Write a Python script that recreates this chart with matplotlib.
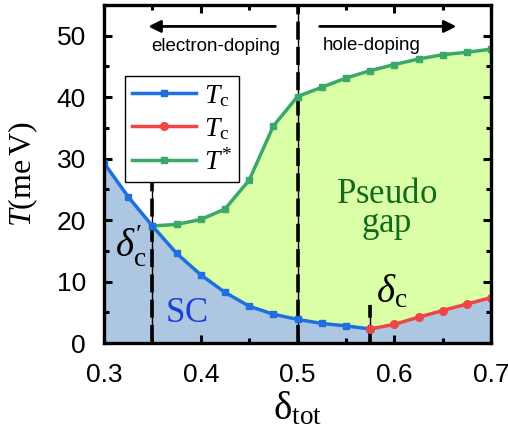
import matplotlib
matplotlib.use("Agg")
import matplotlib.pyplot as plt
from matplotlib.ticker import MultipleLocator
import numpy as np

plt.rcParams['font.family'] = ['Liberation Sans', 'DejaVu Sans']
plt.rcParams['mathtext.fontset'] = 'custom'
plt.rcParams['mathtext.rm'] = 'Liberation Serif'
plt.rcParams['mathtext.it'] = 'Liberation Serif:italic'
plt.rcParams['mathtext.bf'] = 'Liberation Serif:bold'

# Data
x_tc_e = [0.3, 0.325, 0.35, 0.375, 0.4, 0.425, 0.45, 0.475, 0.5, 0.525, 0.55, 0.575]
tc_e = [29.3, 23.8, 19.05, 14.6, 11.1, 8.25, 6.0, 4.7, 3.85, 3.2, 2.8, 2.3]
x_tc_h = [0.575, 0.6, 0.625, 0.65, 0.675, 0.7]
tc_h = [2.3, 3.05, 4.2, 5.3, 6.35, 7.4]
x_ts = [0.35, 0.375, 0.4, 0.425, 0.45, 0.475, 0.5, 0.525, 0.55, 0.575, 0.6, 0.625, 0.65, 0.675, 0.7]
ts = [19.05, 19.3, 20.1, 21.8, 26.5, 35.3, 40.1, 41.6, 43.1, 44.3, 45.3, 46.2, 46.9, 47.3, 47.8]
x_ticks = [0.3, 0.4, 0.5, 0.6, 0.7]
x_ticklabels = ['0.3', '0.4', '0.5', '0.6', '0.7']

c_blue = '#1f6fdf'
c_red = '#f04545'
c_green = '#3aa868'
fill_blue = '#adc7e3'
fill_green = '#dbffa6'

fig = plt.figure(figsize=(5.08, 4.45), dpi=100)
ax = fig.add_axes([0.2047, 0.229, 0.762, 0.760])

# Fills
x_all = x_tc_e + x_tc_h[1:]
tc_all = tc_e + tc_h[1:]
ax.fill_between(x_all, 0, tc_all, color=fill_blue, lw=0, zorder=1)
tc_interp = np.interp(x_ts, x_all, tc_all)
ax.fill_between(x_ts, tc_interp, ts, color=fill_green, lw=0, zorder=1)

# Vertical dashed lines
for xv, ytop in [(0.35, 26.0), (0.5, 55), (0.575, 6.2)]:
    ax.plot([xv, xv], [0, ytop], color='black', lw=1.0, zorder=2)
    ax.plot([xv, xv], [0, ytop], color='black', lw=2.6, ls=(0, (5, 2.0)), zorder=2)

l1, = ax.plot(x_tc_e, tc_e, color=c_blue, lw=2.5, marker='s', ms=5, zorder=4)
l2, = ax.plot(x_tc_h, tc_h, color=c_red, lw=2.5, marker='o', ms=5.5, zorder=4)
l3, = ax.plot(x_ts, ts, color=c_green, lw=2.5, marker='s', ms=5, zorder=3)

ax.set_xlim(0.3, 0.7)
ax.set_ylim(0, 55)
ax.xaxis.set_major_locator(MultipleLocator(0.1))
ax.xaxis.set_minor_locator(MultipleLocator(0.05))
ax.yaxis.set_major_locator(MultipleLocator(10))
ax.yaxis.set_minor_locator(MultipleLocator(5))
ax.tick_params(which='both', direction='in', top=True, right=True, width=2.2, labelsize=19)
ax.tick_params(which='major', length=6)
ax.tick_params(which='minor', length=3.5)
ax.tick_params(axis='x', which='both', pad=14)
ax.tick_params(axis='y', which='both', pad=13)
ax.set_xticks(x_ticks)
ax.set_xticklabels(x_ticklabels)
for s in ax.spines.values():
    s.set_linewidth(2.4)
    s.set_zorder(6)

ax.set_xlabel(r'$\mathrm{\delta}_{\mathrm{tot}}$', fontsize=28, labelpad=2)
ax.set_ylabel(r'$T\mathrm{(me\,V)}$', fontsize=23, labelpad=12)

leg = ax.legend([l1, l2, l3], [r'$T_{\mathrm{c}}$', r'$T_{\mathrm{c}}$', r'$T^{*}$'],
                loc='upper left', bbox_to_anchor=(0.055, 0.79), fontsize=20,
                frameon=True, fancybox=False, edgecolor='black', framealpha=1,
                handlelength=2.3, handletextpad=0.3, borderpad=0.25, labelspacing=0.25,
                borderaxespad=0)
leg.get_frame().set_linewidth(1.0)
leg.set_zorder(7)

# Arrows and texts
ax.annotate('', xy=(0.343, 51.5), xytext=(0.48, 51.5),
            arrowprops=dict(arrowstyle='-|>', color='black', lw=2, mutation_scale=18), zorder=5)
ax.annotate('', xy=(0.667, 51.5), xytext=(0.52, 51.5),
            arrowprops=dict(arrowstyle='-|>', color='black', lw=2, mutation_scale=18), zorder=5)
ax.text(0.415, 48.2, 'electron-doping', fontsize=13.5, ha='center', va='center', zorder=5)
ax.text(0.577, 48.4, 'hole-doping', fontsize=13.5, ha='center', va='center', zorder=5)

ax.text(0.592, 24.3, r'$\mathrm{Pseudo}$', fontsize=25, color='#106a1a', ha='center', va='center', zorder=5)
ax.text(0.592, 19.1, r'$\mathrm{gap}$', fontsize=25, color='#106a1a', ha='center', va='center', zorder=5)
ax.text(0.385, 5.0, r'$\mathrm{SC}$', fontsize=25, color='#1a3fd6', ha='center', va='center', zorder=5)
ax.text(0.328, 15.8, r"$\mathit{\delta}_{\mathrm{c}}^{\prime}$", fontsize=28, ha='center', va='center',
        zorder=5)
ax.text(0.597, 8.4, r'$\mathit{\delta}_{\mathrm{c}}$', fontsize=28, ha='center', va='center',
        zorder=5)

fig.savefig('out.png', dpi=100)
